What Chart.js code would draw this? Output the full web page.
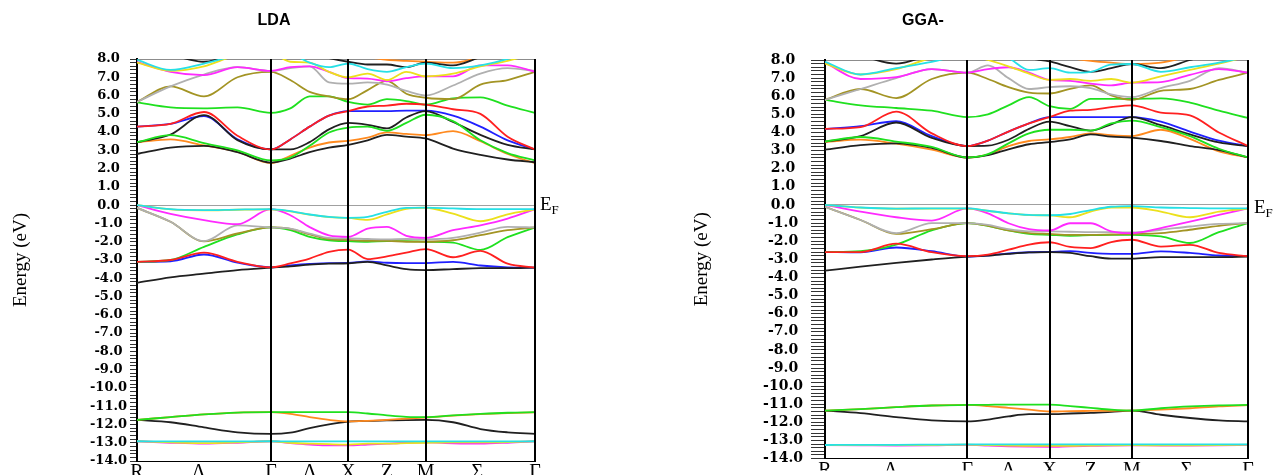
<!DOCTYPE html>
<html>
<head>
<meta charset="utf-8">
<script src="https://cdn.jsdelivr.net/npm/chart.js@4.4.1/dist/chart.umd.min.js"></script>
<style>
body { margin: 0; background: #fff; width: 1285px; height: 475px; overflow: hidden; position: relative; }
#wrapL { position: absolute; left: 0; top: 0; width: 640px; height: 475px; }
#wrapR { position: absolute; left: 640px; top: 0; width: 645px; height: 475px; }
.ttl { position: absolute; top: 11px; font: bold 16px 'Liberation Sans', Arial, sans-serif; color: #000; transform: translateX(-50%); white-space: nowrap; }
.ef { position: absolute; font: 19px 'Liberation Serif', 'Times New Roman', serif; line-height: 19px; color: #000; }
.ef span { font-size: 13px; position: relative; top: 4px; }
</style>
</head>
<body>
<div id="wrapL"><canvas id="lda" width="640" height="475"></canvas></div>
<div id="wrapR"><canvas id="gga" width="645" height="475"></canvas></div>
<div class="ttl" style="left:274px">LDA</div>
<div class="ttl" style="left:923px">GGA-</div>
<div class="ef" style="left:540px;top:194px">E<span>F</span></div>
<div class="ef" style="left:1254px;top:197px">E<span>F</span></div>
<script>
// k-path R - Γ - X - M - Γ (cubic), 4 sub-steps per segment
const kPts = [0, 0.2165, 0.433, 0.6495, 0.866, 0.991, 1.116, 1.241, 1.366, 1.491, 1.616, 1.741, 1.866, 2.043, 2.220, 2.396, 2.573];
const kTickPos = [0, 0.40, 0.866, 1.116, 1.366, 1.616, 1.866, 2.2, 2.573];
const kTickLbl = ['R', 'Λ', 'Γ', 'Δ', 'X', 'Z', 'M', 'Σ', 'Γ'];
const eMin = -14, eMax = 8;

// ---- LDA ----
const ldaBlackC1 = [2.8, 3.15, 3.25, 2.9, 2.33, 2.55, 2.9, 3.15, 3.3, 3.55, 3.85, 3.75, 3.65, 3.1, 2.75, 2.5, 2.35];
const ldaOrangeC = [3.45, 3.6, 3.27, 2.92, 2.3, 2.7, 3.15, 3.43, 3.52, 3.7, 3.98, 3.9, 3.83, 4.05, 3.5, 2.8, 2.3];
const ldaGreenC = [3.45, 3.83, 3.4, 3.0, 2.45, 2.6, 3.25, 3.98, 4.25, 4.3, 4.07, 4.5, 4.95, 4.6, 3.55, 2.85, 2.45];
const ldaBlackC2 = [3.45, 3.87, 4.93, 3.56, 3.05, 3.05, 3.45, 4.15, 4.5, 4.4, 4.2, 4.8, 5.15, 4.55, 3.85, 3.3, 3.05];
const ldaBlueC = [4.3, 4.45, 4.88, 3.6, 3.05, 3.6, 4.3, 4.9, 5.15, 5.15, 5.15, 5.17, 5.17, 4.9, 4.3, 3.55, 3.05];
const ldaRedC = [4.3, 4.45, 5.1, 3.8, 3.05, 3.6, 4.3, 4.9, 5.15, 5.4, 5.45, 5.55, 5.5, 5.25, 5.0, 3.75, 3.05];
const ldaGreenC2 = [5.63, 5.35, 5.3, 5.35, 5.05, 5.3, 5.95, 5.95, 5.65, 5.5, 5.8, 5.7, 5.5, 5.85, 5.9, 5.45, 5.05];
const ldaOlive = [5.65, 6.5, 5.95, 7.0, 7.3, 6.85, 6.2, 5.95, 5.8, 6.3, 6.8, 6.1, 5.88, 5.8, 6.6, 6.85, 7.3];
const ldaGray = [5.65, 6.5, 7.15, 7.55, 7.35, 7.5, 7.6, 6.72, 6.65, 6.72, 6.6, 6.25, 6.0, 6.55, 7.2, 7.5, 7.35];
const ldaMagenta = [7.85, 7.3, 7.12, 7.55, 7.35, 7.55, 7.6, 7.3, 6.95, 6.93, 6.78, 6.95, 7.05, 7.05, 7.65, 7.65, 7.3];
const ldaYellow = [7.8, 7.35, 7.6, 8.2, 8.3, 7.85, 7.8, 7.3, 7.0, 7.2, 6.85, 7.3, 7.05, 7.2, 7.6, 7.9, 8.3];
const ldaCyan = [7.95, 7.4, 7.75, 8.2, 8.4, 8.3, 7.8, 7.55, 7.75, 7.45, 7.3, 7.55, 7.75, 7.5, 7.65, 8.0, 8.4];
const ldaBlackTop = [8.3, 8.2, 7.85, 8.3, 8.6, 8.6, 8.3, 8.05, 7.85, 7.7, 7.7, 7.55, 7.8, 7.65, 8.1, 8.5, 8.6];
const ldaOrangeTop = [8.6, 8.6, 8.6, 8.6, 8.7, 8.7, 8.6, 8.4, 8.2, 8.1, 7.95, 7.9, 7.85, 7.8, 8.1, 8.5, 8.7];

const ldaCyanV = [0.0, -0.22, -0.27, -0.24, -0.22, -0.33, -0.51, -0.64, -0.69, -0.64, -0.36, -0.15, -0.13, -0.18, -0.22, -0.22, -0.22];
const ldaYellowV = [0.0, -0.23, -0.28, -0.25, -0.23, -0.34, -0.52, -0.65, -0.7, -0.8, -0.5, -0.2, -0.14, -0.46, -0.88, -0.5, -0.23];
const ldaMagentaV = [0.0, -0.48, -0.82, -1.04, -0.22, -0.55, -1.2, -1.65, -1.73, -1.28, -1.19, -1.68, -1.79, -1.37, -1.1, -0.73, -0.22];
const ldaGrayV = [-0.15, -0.91, -1.97, -1.1, -1.22, -1.28, -1.55, -1.79, -1.82, -1.85, -1.87, -1.85, -1.87, -1.79, -1.5, -1.19, -1.22];
const ldaOliveV = [-0.15, -0.91, -1.98, -1.55, -1.22, -1.3, -1.6, -1.85, -1.9, -1.95, -1.95, -2.0, -2.0, -1.92, -1.64, -1.37, -1.22];
const ldaGreenV = [-3.1, -3.0, -2.28, -1.6, -1.22, -1.37, -1.73, -1.92, -1.97, -2.0, -1.97, -1.97, -2.0, -2.05, -2.45, -1.75, -1.22];
const ldaRedV = [-3.1, -3.0, -2.6, -3.1, -3.4, -3.19, -2.92, -2.55, -2.43, -2.95, -2.8, -2.6, -2.4, -2.85, -2.5, -3.2, -3.42];
const ldaBlueV = [-3.1, -3.07, -2.7, -3.15, -3.4, -3.3, -3.22, -3.17, -3.16, -3.08, -3.15, -3.17, -3.17, -3.1, -3.3, -3.4, -3.42];
const ldaBlackV = [-4.25, -3.95, -3.75, -3.55, -3.42, -3.35, -3.25, -3.2, -3.18, -3.1, -3.3, -3.5, -3.55, -3.5, -3.45, -3.45, -3.42];

const ldaGreenS = [-11.75, -11.6, -11.45, -11.35, -11.33, -11.33, -11.33, -11.33, -11.33, -11.4, -11.5, -11.58, -11.6, -11.5, -11.42, -11.36, -11.33];
const ldaOrangeS = [-11.75, -11.6, -11.45, -11.35, -11.33, -11.42, -11.6, -11.75, -11.83, -11.8, -11.75, -11.68, -11.62, -11.52, -11.44, -11.38, -11.34];
const ldaBlackS = [-11.75, -11.88, -12.16, -12.43, -12.52, -12.45, -12.2, -12.0, -11.85, -11.8, -11.78, -11.76, -11.75, -11.88, -12.25, -12.43, -12.52];
const ldaCyanS = [-12.92, -12.93, -12.93, -12.93, -12.92, -12.93, -12.93, -12.93, -12.93, -12.93, -12.93, -12.93, -12.93, -12.93, -12.93, -12.93, -12.92];
const ldaMagentaS = [-12.92, -13.0, -13.05, -13.0, -12.92, -13.02, -13.1, -13.15, -13.15, -13.1, -13.05, -13.0, -12.98, -13.03, -13.05, -13.0, -12.92];
const ldaYellowS = [-12.92, -12.98, -13.02, -12.98, -12.92, -13.0, -13.05, -13.08, -13.1, -13.05, -13.05, -13.02, -13.0, -12.98, -12.98, -12.96, -12.92];

// ---- GGA ----
const ggaBlackC1 = [3.05, 3.3, 3.4, 3.15, 2.62, 2.75, 3.07, 3.35, 3.47, 3.62, 3.9, 3.77, 3.71, 3.53, 3.25, 3.03, 2.62];
const ggaOrangeC = [3.47, 3.6, 3.38, 3.05, 2.62, 2.78, 3.25, 3.53, 3.62, 3.75, 3.95, 3.85, 3.8, 4.15, 3.65, 2.95, 2.62];
const ggaGreenC = [3.5, 3.75, 3.5, 3.2, 2.62, 2.8, 3.4, 3.95, 4.15, 4.15, 4.1, 4.5, 4.65, 4.3, 3.8, 3.1, 2.62];
const ggaBlackC2 = [3.5, 3.8, 4.55, 3.7, 3.25, 3.27, 3.6, 4.2, 4.6, 4.35, 4.1, 4.45, 4.85, 4.4, 3.9, 3.45, 3.25];
const ggaBlueC = [4.2, 4.35, 4.62, 3.8, 3.25, 3.55, 4.05, 4.5, 4.85, 4.85, 4.85, 4.85, 4.85, 4.6, 4.05, 3.55, 3.25];
const ggaRedC = [4.2, 4.3, 5.15, 3.95, 3.25, 3.55, 4.05, 4.5, 4.85, 5.2, 5.25, 5.4, 5.5, 5.1, 4.95, 4.0, 3.25];
const ggaGreenC2 = [5.8, 5.5, 5.35, 5.2, 4.85, 5.0, 5.5, 5.95, 5.45, 5.3, 5.85, 5.85, 5.85, 5.88, 5.65, 5.2, 4.8];
const ggaOlive = [5.8, 6.4, 5.9, 6.95, 7.3, 6.95, 6.5, 6.2, 6.15, 6.4, 6.6, 6.05, 5.8, 6.3, 6.4, 6.9, 7.3];
const ggaGray = [5.8, 6.4, 7.0, 7.5, 7.3, 7.7, 7.0, 6.4, 6.5, 6.55, 6.45, 6.1, 5.95, 6.45, 6.85, 7.55, 7.3];
const ggaMagenta = [7.85, 6.95, 7.05, 7.5, 7.3, 7.5, 7.6, 7.3, 6.9, 6.85, 6.7, 6.6, 6.75, 6.78, 7.18, 7.5, 7.3];
const ggaYellow = [7.8, 7.2, 7.5, 8.1, 8.3, 8.0, 7.65, 7.25, 6.9, 6.95, 6.85, 6.95, 6.75, 7.1, 7.45, 7.8, 8.2];
const ggaCyan = [7.9, 7.2, 7.55, 7.9, 8.3, 8.3, 8.1, 7.45, 7.55, 7.3, 7.35, 7.75, 7.78, 7.35, 7.6, 7.85, 8.2];
const ggaBlackTop = [8.3, 8.2, 7.8, 8.3, 8.6, 8.6, 8.4, 8.1, 7.92, 7.6, 7.35, 7.55, 7.78, 7.55, 8.0, 8.4, 8.6];
const ggaOrangeTop = [8.6, 8.6, 8.6, 8.6, 8.7, 8.7, 8.6, 8.4, 8.2, 8.1, 7.95, 7.85, 7.78, 7.85, 8.2, 8.5, 8.7];

const ggaCyanV = [0.0, -0.14, -0.2, -0.19, -0.19, -0.32, -0.46, -0.55, -0.57, -0.5, -0.28, -0.1, -0.06, -0.14, -0.17, -0.19, -0.19];
const ggaYellowV = [0.0, -0.15, -0.21, -0.2, -0.2, -0.33, -0.47, -0.56, -0.58, -0.68, -0.37, -0.14, -0.14, -0.37, -0.68, -0.37, -0.2];
const ggaMagentaV = [0.0, -0.37, -0.68, -0.86, -0.19, -0.46, -1.01, -1.34, -1.41, -1.01, -1.01, -1.46, -1.56, -1.28, -0.92, -0.55, -0.19];
const ggaGrayV = [-0.1, -0.83, -1.56, -1.0, -1.0, -1.1, -1.34, -1.46, -1.46, -1.48, -1.5, -1.5, -1.52, -1.37, -1.19, -1.05, -1.0];
const ggaOliveV = [-0.1, -0.83, -1.6, -1.34, -1.0, -1.15, -1.4, -1.55, -1.6, -1.65, -1.65, -1.63, -1.61, -1.56, -1.37, -1.15, -1.0];
const ggaGreenV = [-2.6, -2.55, -2.19, -1.4, -1.0, -1.15, -1.41, -1.6, -1.65, -1.7, -1.67, -1.65, -1.65, -1.74, -2.1, -1.5, -1.0];
const ggaRedV = [-2.6, -2.6, -2.14, -2.61, -2.83, -2.74, -2.47, -2.19, -2.06, -2.32, -2.38, -2.05, -1.92, -2.3, -2.2, -2.65, -2.83];
const ggaBlueV = [-2.6, -2.62, -2.35, -2.55, -2.85, -2.79, -2.68, -2.61, -2.59, -2.55, -2.65, -2.7, -2.7, -2.56, -2.65, -2.79, -2.83];
const ggaBlackV = [-3.63, -3.41, -3.2, -3.01, -2.85, -2.8, -2.7, -2.62, -2.6, -2.65, -2.83, -2.96, -2.96, -2.88, -2.88, -2.88, -2.85];

const ggaGreenS = [-11.35, -11.27, -11.16, -11.07, -11.04, -11.03, -11.02, -11.02, -11.02, -11.1, -11.2, -11.3, -11.35, -11.22, -11.12, -11.06, -11.04];
const ggaOrangeS = [-11.35, -11.27, -11.16, -11.07, -11.04, -11.1, -11.2, -11.3, -11.4, -11.38, -11.37, -11.36, -11.35, -11.3, -11.22, -11.12, -11.05];
const ggaBlackS = [-11.35, -11.49, -11.71, -11.89, -11.95, -11.85, -11.67, -11.55, -11.55, -11.51, -11.48, -11.42, -11.35, -11.58, -11.76, -11.89, -11.95];
const ggaCyanS = [-13.25, -13.24, -13.24, -13.23, -13.22, -13.22, -13.22, -13.22, -13.22, -13.22, -13.22, -13.22, -13.22, -13.22, -13.22, -13.22, -13.22];
const ggaMagentaS = [-13.26, -13.27, -13.28, -13.27, -13.24, -13.28, -13.32, -13.34, -13.35, -13.32, -13.3, -13.28, -13.27, -13.28, -13.28, -13.27, -13.24];
const ggaYellowS = [-13.25, -13.26, -13.26, -13.25, -13.23, -13.26, -13.28, -13.3, -13.3, -13.3, -13.28, -13.27, -13.26, -13.27, -13.27, -13.26, -13.23];

const C = {
    black: '#202020', red: '#ff2020', green: '#1fe01f', blue: '#2020ff', orange: '#ff8a1f',
    gray: '#b0b0b0', olive: '#a39424', magenta: '#ff2aff', cyan: '#26e0e6', yellow: '#ece01c'
};

// first in list = drawn on top
const ldaBands = [
    [ldaCyanS, C.cyan], [ldaYellowS, C.yellow], [ldaMagentaS, C.magenta],
    [ldaGreenS, C.green], [ldaOrangeS, C.orange], [ldaBlackS, C.black],
    [ldaCyanV, C.cyan], [ldaYellowV, C.yellow], [ldaMagentaV, C.magenta], [ldaRedV, C.red],
    [ldaGrayV, C.gray], [ldaOliveV, C.olive], [ldaGreenV, C.green], [ldaBlackV, C.black], [ldaBlueV, C.blue],
    [ldaCyan, C.cyan], [ldaYellow, C.yellow], [ldaMagenta, C.magenta], [ldaRedC, C.red],
    [ldaGray, C.gray], [ldaOlive, C.olive], [ldaGreenC2, C.green], [ldaGreenC, C.green],
    [ldaBlackTop, C.black], [ldaBlackC2, C.black], [ldaBlackC1, C.black],
    [ldaBlueC, C.blue], [ldaOrangeTop, C.orange], [ldaOrangeC, C.orange]
];
const ggaBands = [
    [ggaCyanS, C.cyan], [ggaYellowS, C.yellow], [ggaMagentaS, C.magenta],
    [ggaGreenS, C.green], [ggaOrangeS, C.orange], [ggaBlackS, C.black],
    [ggaCyanV, C.cyan], [ggaYellowV, C.yellow], [ggaMagentaV, C.magenta], [ggaRedV, C.red],
    [ggaGrayV, C.gray], [ggaOliveV, C.olive], [ggaGreenV, C.green], [ggaBlackV, C.black], [ggaBlueV, C.blue],
    [ggaCyan, C.cyan], [ggaYellow, C.yellow], [ggaMagenta, C.magenta], [ggaRedC, C.red],
    [ggaGray, C.gray], [ggaOlive, C.olive], [ggaGreenC2, C.green], [ggaGreenC, C.green],
    [ggaBlackTop, C.black], [ggaBlackC2, C.black], [ggaBlackC1, C.black],
    [ggaBlueC, C.blue], [ggaOrangeTop, C.orange], [ggaOrangeC, C.orange]
];

function isMajor(v) { return Math.abs(v - Math.round(v)) < 1e-6; }

function makePanel(id, bands, g) {
    const datasets = bands.map(b => ({
        data: kPts.map((k, i) => ({ x: k, y: b[0][i] })),
        borderColor: b[1],
        borderWidth: 1.8,
        pointRadius: 0,
        fill: false,
        cubicInterpolationMode: 'monotone'
    }));
    return new Chart(document.getElementById(id), {
        type: 'line',
        data: { datasets },
        options: {
            responsive: false,
            animation: false,
            devicePixelRatio: 1,
            layout: { padding: { top: g.top, right: g.right, left: 0, bottom: 0 } },
            plugins: { legend: { display: false }, tooltip: { enabled: false } },
            scales: {
                x: {
                    type: 'linear',
                    min: kPts[0],
                    max: kPts[kPts.length - 1],
                    afterBuildTicks: ax => { ax.ticks = kTickPos.map(v => ({ value: v })); },
                    afterFit: ax => { ax.height = g.xh; },
                    ticks: {
                        autoSkip: false, maxRotation: 0, padding: 0, color: '#000',
                        font: { family: 'Liberation Serif', size: 20 },
                        callback: (v, i) => kTickLbl[i]
                    },
                    // vertical lines at Γ, X, M, Γ drawn over the bands
                    grid: {
                        z: 1,
                        drawTicks: false,
                        lineWidth: 2,
                        color: c => (c.index > 0 && c.index % 2 === 0) ? '#000' : 'rgba(0,0,0,0)'
                    },
                    border: { display: true, color: '#000', width: 1, z: 1 }
                },
                y: {
                    min: eMin,
                    max: eMax,
                    afterFit: ax => { ax.width = g.left; },
                    ticks: {
                        stepSize: 0.2, autoSkip: false, maxTicksLimit: 200,
                        padding: g.tpad, color: '#000', crossAlign: 'center',
                        font: { family: 'DejaVu Serif', size: g.fs, weight: 'bold' },
                        callback: v => isMajor(v) ? Math.round(v).toFixed(1) : ''
                    },
                    grid: {
                        tickLength: g.tlen,
                        tickWidth: 1,
                        tickColor: '#333',
                        lineWidth: 1,
                        color: c => {
                            if (!c.tick) return 'rgba(0,0,0,0)';
                            if (Math.abs(c.tick.value) < 1e-6) return '#a0a0a0';
                            if (Math.abs(c.tick.value - eMax) < 1e-6) return '#8c8c8c';
                            return 'rgba(0,0,0,0)';
                        }
                    },
                    border: { display: true, color: '#000', width: 2 },
                    title: {
                        display: true, text: 'Energy (eV)', color: '#000',
                        font: { family: 'Liberation Serif', size: 19 },
                        padding: { top: g.ttl, bottom: 0 }
                    }
                }
            }
        }
    });
}

makePanel('lda', ldaBands, { top: 59, right: 105, left: 137, xh: 14, tlen: 7, tpad: 3, ttl: 10, fs: 13 });
makePanel('gga', ggaBands, { top: 60, right: 37, left: 185, xh: 12, tlen: 14, tpad: 8, ttl: 51, fs: 14 });
</script>
</body>
</html>
